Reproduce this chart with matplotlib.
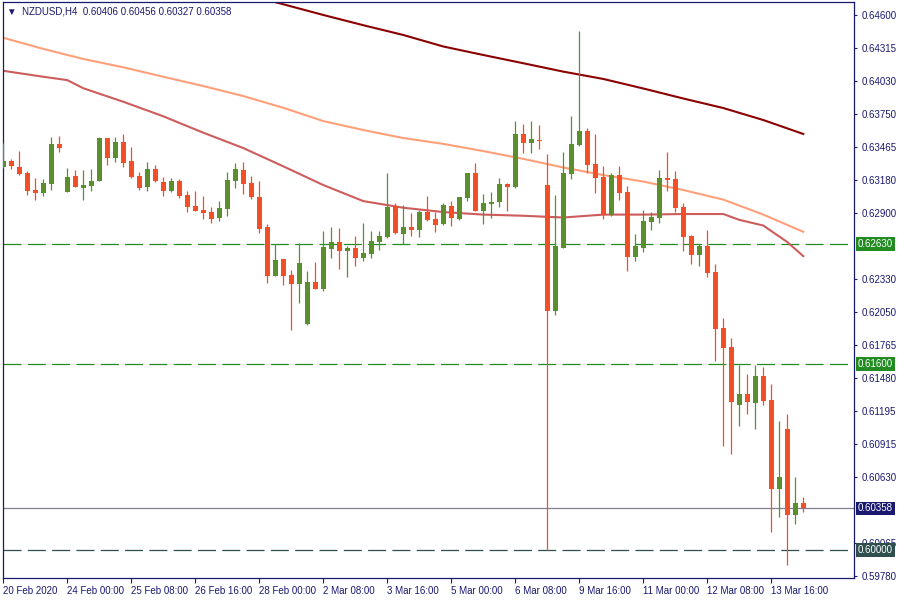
import matplotlib.pyplot as plt
import matplotlib.transforms as mtransforms

plt.rcParams['font.family'] = ['Liberation Sans', 'DejaVu Sans']
plt.rcParams['lines.scale_dashes'] = False

symbol = 'NZDUSD,H4'

# H4 candles, 20 Feb 2020 16:00 .. 16 Mar 2020
opens = [0.63295, 0.63344, 0.63293, 0.63241, 0.63095, 0.63072, 0.63149, 0.63491, 0.63080, 0.63215,
         0.63115, 0.63132, 0.63175, 0.63542, 0.63373, 0.63508, 0.63344, 0.63215, 0.63123, 0.63276,
         0.63164, 0.63089, 0.63172, 0.63052, 0.62957, 0.62923, 0.62906, 0.62857, 0.62934, 0.63175,
         0.63267, 0.63155, 0.63035, 0.62777, 0.62358, 0.62502, 0.62367, 0.62289, 0.61943, 0.62304,
         0.62246, 0.62590, 0.62648, 0.62573, 0.62596, 0.62513, 0.62547, 0.62650, 0.62693, 0.62957,
         0.62719, 0.62777, 0.62754, 0.62906, 0.62846, 0.62805, 0.62957, 0.62848, 0.63029, 0.63241,
         0.62917, 0.62977, 0.62994, 0.63147, 0.63121, 0.63577, 0.63499, 0.63525, 0.63138, 0.62057,
         0.62599, 0.63235, 0.63482, 0.63602, 0.63319, 0.63207, 0.62883, 0.63224, 0.63078, 0.62521,
         0.62599, 0.62822, 0.62857, 0.63198, 0.63190, 0.62949, 0.62699, 0.62539, 0.62613, 0.62390,
         0.61908, 0.61745, 0.61249, 0.61341, 0.61266, 0.61495, 0.61289, 0.60526, 0.61040, 0.60303,
         0.60406]
highs = [0.63497, 0.63362, 0.63430, 0.63258, 0.63198, 0.63190, 0.63551, 0.63559, 0.63284, 0.63267,
         0.63267, 0.63276, 0.63551, 0.63542, 0.63551, 0.63577, 0.63465, 0.63250, 0.63336, 0.63310,
         0.63207, 0.63198, 0.63190, 0.63086, 0.63086, 0.63043, 0.62949, 0.63000, 0.63250, 0.63327,
         0.63336, 0.63215, 0.63172, 0.62803, 0.62631, 0.62502, 0.62407, 0.62637, 0.62398, 0.62476,
         0.62742, 0.62777, 0.62768, 0.62613, 0.62699, 0.62811, 0.62742, 0.62742, 0.63241, 0.62983,
         0.62966, 0.62897, 0.62923, 0.63043, 0.62906, 0.62983, 0.63000, 0.63035, 0.63241, 0.63327,
         0.63061, 0.63078, 0.63198, 0.63155, 0.63688, 0.63663, 0.63688, 0.63654, 0.63405, 0.63052,
         0.63422, 0.63731, 0.64462, 0.63628, 0.63577, 0.63304, 0.63244, 0.63304, 0.63129, 0.62717,
         0.62923, 0.62906, 0.63267, 0.63422, 0.63258, 0.62983, 0.62708, 0.62631, 0.62751, 0.62459,
         0.61994, 0.61822, 0.61593, 0.61513, 0.61593, 0.61573, 0.61427, 0.61108, 0.61171, 0.60627,
         0.60456]
lows = [0.63282, 0.63278, 0.63224, 0.63055, 0.63009, 0.63043, 0.63095, 0.63422, 0.63080, 0.63123,
        0.63009, 0.63089, 0.63175, 0.63313, 0.63338, 0.63295, 0.63201, 0.63098, 0.63089, 0.63164,
        0.63046, 0.63080, 0.63029, 0.62908, 0.62917, 0.62848, 0.62814, 0.62831, 0.62874, 0.63115,
        0.63063, 0.63020, 0.62728, 0.62298, 0.62358, 0.62281, 0.61894, 0.62126, 0.61934, 0.62246,
        0.62229, 0.62513, 0.62418, 0.62349, 0.62444, 0.62487, 0.62513, 0.62582, 0.62685, 0.62719,
        0.62633, 0.62702, 0.62693, 0.62828, 0.62736, 0.62797, 0.62788, 0.62840, 0.63003, 0.62917,
        0.62805, 0.62857, 0.62951, 0.62917, 0.63112, 0.63413, 0.63413, 0.63448, 0.59998, 0.62023,
        0.62599, 0.63192, 0.63473, 0.63244, 0.63072, 0.62848, 0.62874, 0.63012, 0.62401, 0.62487,
        0.62564, 0.62754, 0.62814, 0.63089, 0.62908, 0.62573, 0.62461, 0.62444, 0.62349, 0.61627,
        0.60896, 0.60827, 0.61068, 0.61171, 0.61042, 0.61249, 0.60156, 0.60285, 0.59873, 0.60225,
        0.60327]
closes = [0.63344, 0.63304, 0.63235, 0.63089, 0.63072, 0.63155, 0.63491, 0.63459, 0.63207, 0.63123,
          0.63138, 0.63172, 0.63542, 0.63373, 0.63508, 0.63330, 0.63209, 0.63115, 0.63276, 0.63175,
          0.63089, 0.63172, 0.63046, 0.62951, 0.62917, 0.62900, 0.62848, 0.62940, 0.63181, 0.63276,
          0.63149, 0.63037, 0.62762, 0.62358, 0.62493, 0.62358, 0.62289, 0.62467, 0.62304, 0.62246,
          0.62605, 0.62648, 0.62573, 0.62596, 0.62513, 0.62553, 0.62656, 0.62699, 0.62949, 0.62728,
          0.62777, 0.62754, 0.62906, 0.62837, 0.62797, 0.62966, 0.62857, 0.63035, 0.63241, 0.62917,
          0.62983, 0.62992, 0.63147, 0.63123, 0.63577, 0.63499, 0.63534, 0.63516, 0.62057, 0.62613,
          0.63241, 0.63491, 0.63602, 0.63313, 0.63201, 0.62883, 0.63227, 0.63072, 0.62521, 0.62613,
          0.62828, 0.62863, 0.63198, 0.63184, 0.62943, 0.62693, 0.62539, 0.62613, 0.62384, 0.61902,
          0.61739, 0.61274, 0.61341, 0.61274, 0.61495, 0.61283, 0.60526, 0.60627, 0.60303, 0.60403,
          0.60358]

date_labels = ['20 Feb 2020', '24 Feb 00:00', '25 Feb 08:00', '26 Feb 16:00', '28 Feb 00:00',
               '2 Mar 08:00', '3 Mar 16:00', '5 Mar 00:00', '6 Mar 08:00', '9 Mar 16:00',
               '11 Mar 00:00', '12 Mar 08:00', '13 Mar 16:00']
label_step = 8

price_ticks = [0.64600, 0.64315, 0.64030, 0.63750, 0.63465, 0.63180, 0.62900, 0.62330,
               0.62050, 0.61765, 0.61480, 0.61195, 0.60915, 0.60630, 0.60065, 0.59780]

# moving averages (bar index, value)
ma_slow_idx = [32, 35, 40, 45, 50, 55, 60, 65, 70, 75, 80, 85, 90, 95, 100]
ma_slow = [0.64746, 0.64692, 0.64600, 0.64512, 0.64428, 0.64329, 0.64256, 0.64185, 0.64113,
           0.64050, 0.63968, 0.63882, 0.63800, 0.63697, 0.63577]
ma_mid_idx = [0, 5, 10, 15, 20, 25, 30, 35, 40, 45, 50, 55, 60, 65, 70, 75, 80, 85, 90, 95, 100]
ma_mid = [0.64404, 0.64308, 0.64222, 0.64150, 0.64069, 0.63989, 0.63903, 0.63802, 0.63688,
          0.63611, 0.63542, 0.63492, 0.63430, 0.63363, 0.63289, 0.63224, 0.63168, 0.63095,
          0.63013, 0.62884, 0.62736]
ma_fast_idx = [0, 5, 8, 10, 15, 20, 25, 30, 35, 40, 45, 50, 55, 60, 65, 70, 75, 80, 85, 90, 92,
               95, 98, 100]
ma_fast = [0.64120, 0.64069, 0.64040, 0.63970, 0.63854, 0.63729, 0.63588, 0.63456, 0.63299,
           0.63138, 0.63000, 0.62943, 0.62906, 0.62884, 0.62874, 0.62859, 0.62884, 0.62884,
           0.62889, 0.62889, 0.62839, 0.62790, 0.62648, 0.62527]

levels = [0.62630, 0.61600]
support = 0.60000

navy = '#191970'
bull = '#5b8f2d'
bear = '#f24f26'

fig = plt.figure(figsize=(9, 6), dpi=100)
ax = fig.add_axes([0.003, 0.0367, 0.9459, 0.96])

idx = list(range(len(opens)))
cols = [bull if c >= o else bear for o, c in zip(opens, closes)]

# lines
ax.plot(ma_slow_idx, ma_slow, color='#8b0000', lw=1.5, zorder=2)
ax.plot(ma_mid_idx, ma_mid, color='#ffa07a', lw=1.5, zorder=2)
ax.plot(ma_fast_idx, ma_fast, color='#cd5c5c', lw=1.5, zorder=2)

for lv in levels:
    ax.axhline(lv, color='#228b22', lw=0.9, dashes=(13, 4.5), zorder=1)
ax.axhline(support, color='#2f4f4f', lw=0.9, dashes=(13, 4.5), zorder=1)
ax.axhline(closes[-1], color='#808090', lw=0.9, zorder=1)

# candles
ax.vlines(idx, lows, highs, colors=cols, lw=0.9, zorder=3)
ax.bar(idx, [abs(c - o) for o, c in zip(opens, closes)],
       bottom=[min(o, c) for o, c in zip(opens, closes)],
       width=0.62, color=cols, lw=0, zorder=4)

ax.set_xlim(-0.075, 106.34)
ax.set_ylim(0.597604, 0.647117)

ax.set_xticks(list(range(0, len(date_labels) * label_step, label_step)))
ax.set_xticklabels(date_labels, ha='left')
ax.yaxis.tick_right()
ax.set_yticks(price_ticks)
ax.set_yticklabels(['%.5f' % t for t in price_ticks])
ax.tick_params(axis='both', direction='out', color=navy, labelcolor=navy, labelsize=7,
               width=0.8)
ax.tick_params(axis='x', length=3.5, pad=2)
ax.tick_params(axis='y', length=2.5, pad=3)
for s in ax.spines.values():
    s.set_color(navy)
    s.set_linewidth(0.9)

# price labels on the scale
tr = mtransforms.blended_transform_factory(ax.transAxes, ax.transData)
boxes = [(lv, '#228b22') for lv in levels] + [(closes[-1], navy), (support, '#2f4f4f')]
for val, fc in boxes:
    ax.text(1.0045, val, '%.5f' % val, transform=tr, ha='left', va='center', fontsize=7,
            color='white', clip_on=False, zorder=10,
            bbox=dict(boxstyle='square,pad=0.2', fc=fc, ec='none'))

fig.text(7 / 900, 1 - 11 / 600, '\u25bc  %s  %.5f %.5f %.5f %.5f' % (symbol, opens[-1], highs[-1], lows[-1], closes[-1]),
         ha='left', va='center', fontsize=7, color=navy)

fig.savefig('out.png', dpi=100)
